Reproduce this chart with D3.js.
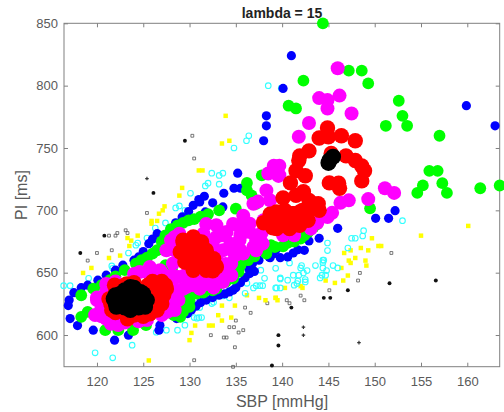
<!DOCTYPE html>
<html>
<head>
<meta charset="utf-8">
<script src="https://cdn.jsdelivr.net/npm/d3@7"></script>
<style>
body { margin: 0; background: #fff; }
text { font-family: "Liberation Sans", Arial, sans-serif; }
</style>
</head>
<body>
<script>
// [SBP, PI], one list per marker group
var plusPts = [[125.4,725.5],[142.3,606.3],[142.3,599.9],[148.3,593.9]];
var starPts = [[129.5,755.8],[126.1,714],[120.8,679.7],[118.2,665.8],[139.6,599.9],[139.6,591.6],[138.9,575.6],
  [156.6,643.7],[151.6,641.5],[147.1,635.9],[144.5,629.8],[145.2,629.8],[141,622]];
var boxPts = [[130.3,759.8],[130.5,741.6],[125.4,697.9],[123.1,684],[123.3,681.8],[122.2,681.8],[122,679.7],[121.3,679.7],
  [120,665.8],[121.6,668],[119,659.7],[138.4,625.5],[136.6,617.8],[136,622],[135,611.6],[135.8,603.9],[135.3,602],
  [134.8,606.3],[134.3,606.3],[134,598],[133.7,598],[134.9,590.2],[132.3,599.9],[130.5,579.8],[134.7,574.5],
  [151.8,665.8],[148.4,649.8],[148.2,643.7],[145.1,635.9],[142,631.6],[142.4,627.9],[140.5,627.9],[140.8,625.5]];
var yellowPts = [[133.9,775.8],[133.5,753.6],[134.3,755.8],[131,732],[131.4,732],[129.2,718],[128.9,711.8],
  [127.3,703.2],[127.1,700],[126.7,697.3],[125.9,691.5],[125.9,689.3],[126.5,691.5],[124.4,679.7],[123.3,677.8],
  [123.7,675.7],[123.5,671.4],[122.5,663.7],[121.3,661.8],[119.4,653.8],[118.5,649.8],[136.2,631.9],[137.5,629.8],
  [138.2,627.9],[139.3,629.8],[133.5,623.6],[134.9,623.6],[133.1,615.9],[133.5,611.6],[134.5,614],[130.6,607.6],
  [132.1,607.6],[132.5,607.6],[130.2,601.7],[130,595.9],[125.6,579.6],[160.1,687.5],[155,679.7],[149.7,677.6],
  [150.4,671.4],[150.7,671.4],[148.5,669.8],[149.3,667.9],[147.4,667.9],[146.7,665.8],[147.9,661.8],[147.2,659.7],
  [147.4,657.8],[149,659.7],[149.1,655.7],[146.4,653.8],[147.1,647.7],[146.6,643.7],[145.7,641.8],[144.7,643.7],
  [140.3,637.8],[142,639.2],[142.2,637.8],[139.3,629.8],[139.5,627.9]];
var cyanPts = [[138.5,800],[139.9,798],[136.15,755.8],[136.4,759.8],[134.8,750],[132.4,729.8],[133.2,728],[133.6,729.8],
  [132,721.8],[131.7,719.6],[133.2,721],[130.1,713.7],[116.4,639.6],[117.1,639.6],[119.1,645.5],[119.8,585.7],
  [121.7,581.7],[123.8,591.9],[121.6,655.4],[121.7,653.5],[123.4,665.8],[124.4,673.8],[124.2,672],[125.4,677.8],
  [126.3,685.8],[127.4,689.9],[128.5,701.9],[128.9,703.5],[129.5,700],[126.4,602.3],[127.5,603.9],[128.7,603.9],
  [129.5,607.9],[130.5,614],[130.8,613.5],[131,614],[131.3,614],[131.1,622],[132.4,625.2],[132.6,626.3],[133.6,631.4],
  [134.3,629.8],[136,633.5],[136.2,641.5],[136.9,637.8],[137.2,639.6],[137.6,639.6],[137.9,639.6],[138.1,645.5],
  [137.7,652],[139.3,653.5],[139.4,637.8],[139.8,645],[153,691.7],[148.8,683.7],[148.7,679.4],[147.5,677.6],[147.9,677.6],
  [144.9,673.8],[144.9,667.7],[147.1,669.8],[140.8,657.8],[139.8,645.8],[139.3,637.8],[139.8,637.8],[140.6,644],
  [141.2,648],[141.8,648],[142.1,655.7],[142,653.8],[142.7,651.7],[142.3,649.8],[142.5,644.5],[142.5,642.6],[141.7,643.4],
  [141.6,641.3],[141.3,640],[143.6,655.7],[144.4,660],[144.5,660],[144.4,658],[144.4,653.8],[144.8,651.7],[144.3,648],
  [144.7,648],[144.1,645.8],[145.5,655.7],[146,653.8]];
var bluePts = [[138.3,775.8],[138.3,767.8],[138,755.8],[135.2,729.8],[134.8,717.7],[135.5,717.7],[133.7,713.7],[131.6,711.3],
  [131,708.6],[141,824],[140.1,797.8],[159.9,783.9],[163,767.8],[116.9,623.6],[117,628],[117.5,634],[118.3,638],[119,640],
  [120.1,644],[121,648],[122,652],[122.8,656],[124,660],[124.5,662.6],[125,667],[125.6,673.3],[126,677],[126.5,681.3],
  [127.9,685.3],[128.5,690],[129.2,694.7],[129.9,699],[130.4,704],[131.1,706.7],[131.7,698.7],[133.6,702.7],[132.5,706],
  [117.1,613.2],[117.9,607.6],[119.6,603.9],[121.9,595.9],[123.4,599.9],[126.7,603.9],[126.8,607.9],[128.6,613.2],
  [129,615],[129.8,617.2],[130.2,620],[130.7,623.1],[131.2,626],[131.8,628],[132.5,630],[133.2,632],[133.8,633],[134.3,634.6],
  [134.7,636],[135,638],[135.5,642],[136,646],[136.5,649.3],[137,651],[136.4,653],[136.3,656],[136.8,657.3],[137.5,660],
  [138.6,662.6],[139,665],[139.3,668],[139.8,670.6],[152.2,699.7],[150.1,693.6],[151.5,693.6],[146,685.6],[144,677.6],
  [142.9,675.4],[142.4,667.9],[141.7,668.4],[141.2,665.8],[140.6,662.6],[139.8,662],[138.7,662]];
var greenPts = [[136.2,722],[136.2,716],[136.7,712],[137.8,728],[144.4,850],[142.3,804],[147.2,812],[148.6,812],[149.3,801.8],
  [140.7,783.9],[141.5,781.7],[152.6,787.9],[153,775.8],[151.2,767.8],[153.5,767.8],[157,759.8],[155.9,731.7],[156.8,731.7],
  [157.3,721.8],[155.2,720],[154.6,714],[157.8,714],[161.4,717.7],[163.5,719.9],[149.5,701.6],[140.1,671.2],[138.8,672],
  [142,677.3],[142.8,682.6],[143.4,686.6],[140.6,674],[141.3,675],[142.4,680],[143,684],[143.8,689],
  [118.3,631.9],[119.6,637.2],[120.5,640],[121.4,644],[122,647],[123,652],[124.2,657.3],[124.8,660],[125.4,662],[126,665.3],
  [126.5,668],[127,675],[127.4,680],[128,685],[128.7,688],[129.3,690],[129.9,692],[130.5,693],[132,697],[133.2,700],[135,701.3],
  [137.2,705.3],[118.3,614.6],[119,618.6],[120.9,603.9],[122.3,603.9],[123.9,603.9],[125.3,607.9],[128.3,615.9],[129,622.6],
  [130,627.9],[130.3,635.9],[132.5,635.9],[133.9,642.6],[134.7,652],[136.3,660],[138.3,665.3],[139.2,670.6],[127.4,656],
  [128.1,653],[127.1,672],[131.2,695],[131.5,634],[135.5,656],[137,663],
  [129.7,630.6],[130.8,633.2],[131.8,636],[132.9,637.2],[134,644],[134.7,645.3],[135.3,650.6],[135.4,657.3],[130,622.6],
  [129.3,618.6],[129,614.6]];
var magentaPts = [[138.3,716],[138.5,729.5],[139.2,735],[139.7,728.2],[146,814],[144,790],[144.9,788.4],[144.9,781.7],[146.2,792],
  [147.5,777.7],[142.9,770],[141.8,759],[139.1,735.7],[139.7,735.7],[139.6,727.6],[151.1,717.7],[152.1,714],[149.3,709],
  [147.2,708],[146.3,706],[145.4,698],[143.8,690],[144.9,694.7],[143.1,685.3],[141.3,680],[140.1,680],[137.4,707],[138.7,708],
  [136.9,705.3],[138,692],
  [120,628],[119.8,616],[121,613],[122.3,608],[124.6,650.6],[125.7,654.6],[126.8,652],[128.1,644],[128.3,630.6],[127.6,618.6],
  [125.4,612],[121,641],[122,642.6],[120.5,622],[121,635],[120,630],[122,643],[124,649],[125.5,650],[127,650],[128,640],
  [128.5,635],[128,625],[127,616],[124.5,611],[123,610],[121.5,609],[120.5,615],
  [128,676],[127.5,668],[128.9,681.3],[129.5,648],[129.3,637],[128.1,648],[130.4,640],
  [131.8,641],[133.2,649],[133.9,657],[131.8,689],[132.9,688],[134.7,689],[135.8,695.7],[136.5,682.6],[137.2,676],[137.9,673.3],
  [137.2,668],[135.5,668],[133.5,680],[134.5,672],[135.5,680],[131.5,680],[133,665],[132.5,672],[138.7,690],[137.8,682],
  [128.4,678.6],[128.4,668],[128.2,657.3],[128.8,646.6],[130,646.6],[131.1,649.3],[132.6,644],[133.6,646.6],[134.5,657.3],
  [134.9,664],[132.2,662.6],[133.6,668],[135.8,665.3],[136.9,670.6],[137.6,677.3],[136.5,689.3],[135.4,686.6],[134,682.6],
  [132.9,678.6],[131.5,681.3],[132.2,673.3],[135.4,676],[134.4,673.3],[130.8,640],
  [129.7,638.6],[131.1,637.2],[132.6,638],[133.6,642.6],[134.5,648],[128.8,628],[128.4,620],[133.6,654.6]];
var redPts = [[125.7,638.6],[126.9,640],[127.4,640],[127,630.6],[127,625],[125.7,617],[123.3,613],[121.6,620],[121.3,629],[123.2,641],
  [122.5,638.6],[121.5,625],[122,618],[122,634],[124,616],[126,620],[126,628],[126,634],[125.5,640],[124,642],[121.9,640],
  [126,643],[127,643],[127.5,637],[127.2,632],[126.5,620],[125,615],
  [129.3,674.6],[130,674.6],[131,674.6],[129,666.6],[129.5,658.6],[130.6,654.6],[132,656],[132.8,656],[131,665],
  [130.2,667],[132.5,651.5],[131,660],[129.3,676],[130.4,678.6],[131.3,674.6],[131.8,668],[132.6,661.3],[132.9,654.6],
  [131.8,652],[130.4,652],[129.7,658.6],[129.7,668],[130.8,665.3],[131.5,657.3],[130.8,672],
  [144.9,766],[144,758],[145,759],[146.4,759.8],[147.9,755.8],[142.9,747.7],[141.9,743.7],[141.8,740],[141.5,731.7],[142.5,727.7],
  [140.9,722],[145.3,745.6],[146.9,743.7],[147.9,740],[148.6,735.6],[148.9,731.7],[148.6,723.6],[145.1,722],[146.1,721.8],[146.2,717.7],
  [142.3,715],[141.5,712],[140.1,710],[142.9,708],[143.6,705],[144,700],[143.3,705],[142.2,700],[141.1,697.3],[140.3,700],
  [138.7,692],[139.4,685.3],[140.8,685.3],[141.9,688],[142.8,692],[138.7,697],[141.5,692],[139.4,692],[140.1,688],[140.8,692],
  [141.5,694.7],[142.3,693.3],[143.2,701.3],[143.9,705.3],[139.4,698.7],[141.2,697.3],[141.9,698.7],[138,690],[139,686]];
var blackPts = [[121.8,629],[122.5,633],[123.6,638.6],[124.7,634.6],[125.4,628],[125.2,622.6],[123.6,620],[122.1,622.6],[123.6,629],
  [122,626],[122,632],[123,636],[124,638],[125,633],[125.2,627],[124.5,622],[123,622],[122.5,629],
  [145.1,740],[145.5,743],[145,738]];

var xTicks = [120,125,130,135,140,145,150,155,160];
var yTicks = [600,650,700,750,800,850];

var width = 504, height = 412;
var left = 64, right = 499.7, top_ = 23.3, bottom = 366.7;

var svg = d3.select('body').append('svg')
  .attr('width', width).attr('height', height)
  .style('display', 'block');

var x = d3.scaleLinear().domain([116.44, 163.5]).range([left, right]);
var y = d3.scaleLinear().domain([574.6, 850]).range([bottom, top_]);

var axisColor = '#5a5a5a';

// axes first, markers lie over them
svg.append('rect')
  .attr('x', left).attr('y', top_)
  .attr('width', right - left).attr('height', bottom - top_)
  .attr('fill', 'none').attr('stroke', '#808080').attr('stroke-width', 1);

var xAxis = svg.append('g').attr('transform', 'translate(0,' + bottom + ')')
  .call(d3.axisBottom(x).tickValues(xTicks).tickSize(-4).tickPadding(10).tickFormat(d3.format('d')));
var yAxis = svg.append('g').attr('transform', 'translate(' + left + ',0)')
  .call(d3.axisLeft(y).tickValues(yTicks).tickSize(-4).tickPadding(6).tickFormat(d3.format('d')));
var xAxisTop = svg.append('g').attr('transform', 'translate(0,' + top_ + ')')
  .call(d3.axisTop(x).tickValues(xTicks).tickSize(-4).tickFormat(''));
var yAxisRight = svg.append('g').attr('transform', 'translate(' + right + ',0)')
  .call(d3.axisRight(y).tickValues(yTicks).tickSize(-4).tickFormat(''));

[xAxis, yAxis, xAxisTop, yAxisRight].forEach(function(a){
  a.select('.domain').remove();
  a.selectAll('line').attr('stroke', '#808080');
  a.selectAll('text').attr('fill', axisColor).style('font-size', '13px')
    .style('font-family', '"Liberation Sans", Arial, sans-serif');
});

function dots(pts, r, color){
  svg.append('g').selectAll('circle').data(pts).enter().append('circle')
    .attr('cx', function(d){ return x(d[0]); })
    .attr('cy', function(d){ return y(d[1]); })
    .attr('r', r)
    .attr('fill', color);
}

// small markers
svg.append('g').selectAll('path').data(plusPts).enter().append('path')
  .attr('d', d3.symbol().type(d3.symbolCross).size(7))
  .attr('transform', function(d){ return 'translate(' + x(d[0]) + ',' + y(d[1]) + ')'; })
  .attr('fill', '#333');
svg.append('g').selectAll('path').data(starPts).enter().append('path')
  .attr('d', d3.symbol().type(d3.symbolCircle).size(12))
  .attr('transform', function(d){ return 'translate(' + x(d[0]) + ',' + y(d[1]) + ')'; })
  .attr('fill', '#111');
svg.append('g').selectAll('path').data(boxPts).enter().append('path')
  .attr('d', d3.symbol().type(d3.symbolSquare).size(8))
  .attr('transform', function(d){ return 'translate(' + x(d[0]) + ',' + y(d[1]) + ')'; })
  .attr('fill', 'none').attr('stroke', '#555').attr('stroke-width', 0.8);
svg.append('g').selectAll('path').data(yellowPts).enter().append('path')
  .attr('d', d3.symbol().type(d3.symbolSquare).size(20))
  .attr('transform', function(d){ return 'translate(' + x(d[0]) + ',' + y(d[1]) + ')'; })
  .attr('fill', '#ffff00');
svg.append('g').selectAll('circle').data(cyanPts).enter().append('circle')
  .attr('cx', function(d){ return x(d[0]); })
  .attr('cy', function(d){ return y(d[1]); })
  .attr('r', 2.8)
  .attr('fill', 'none').attr('stroke', '#33ffff').attr('stroke-width', 1.1);

dots(bluePts, 4.6, '#0000ff');
dots(greenPts, 5.9, '#00ff00');
dots(magentaPts, 7, '#ff00ff');
dots(redPts, 7.7, '#ff0000');
dots(blackPts, 8, '#000000');

svg.append('text').attr('x', 282).attr('y', 17.5)
  .attr('text-anchor', 'middle').attr('font-weight', 'bold').attr('font-size', 14)
  .attr('fill', '#222').text('lambda = 15');
svg.append('text').attr('x', 282).attr('y', 407)
  .attr('text-anchor', 'middle').attr('font-size', 16)
  .attr('fill', axisColor).text('SBP [mmHg]');
svg.append('text').attr('transform', 'translate(27,195) rotate(-90)')
  .attr('text-anchor', 'middle').attr('font-size', 16)
  .attr('fill', axisColor).text('PI [ms]');
</script>
</body>
</html>
